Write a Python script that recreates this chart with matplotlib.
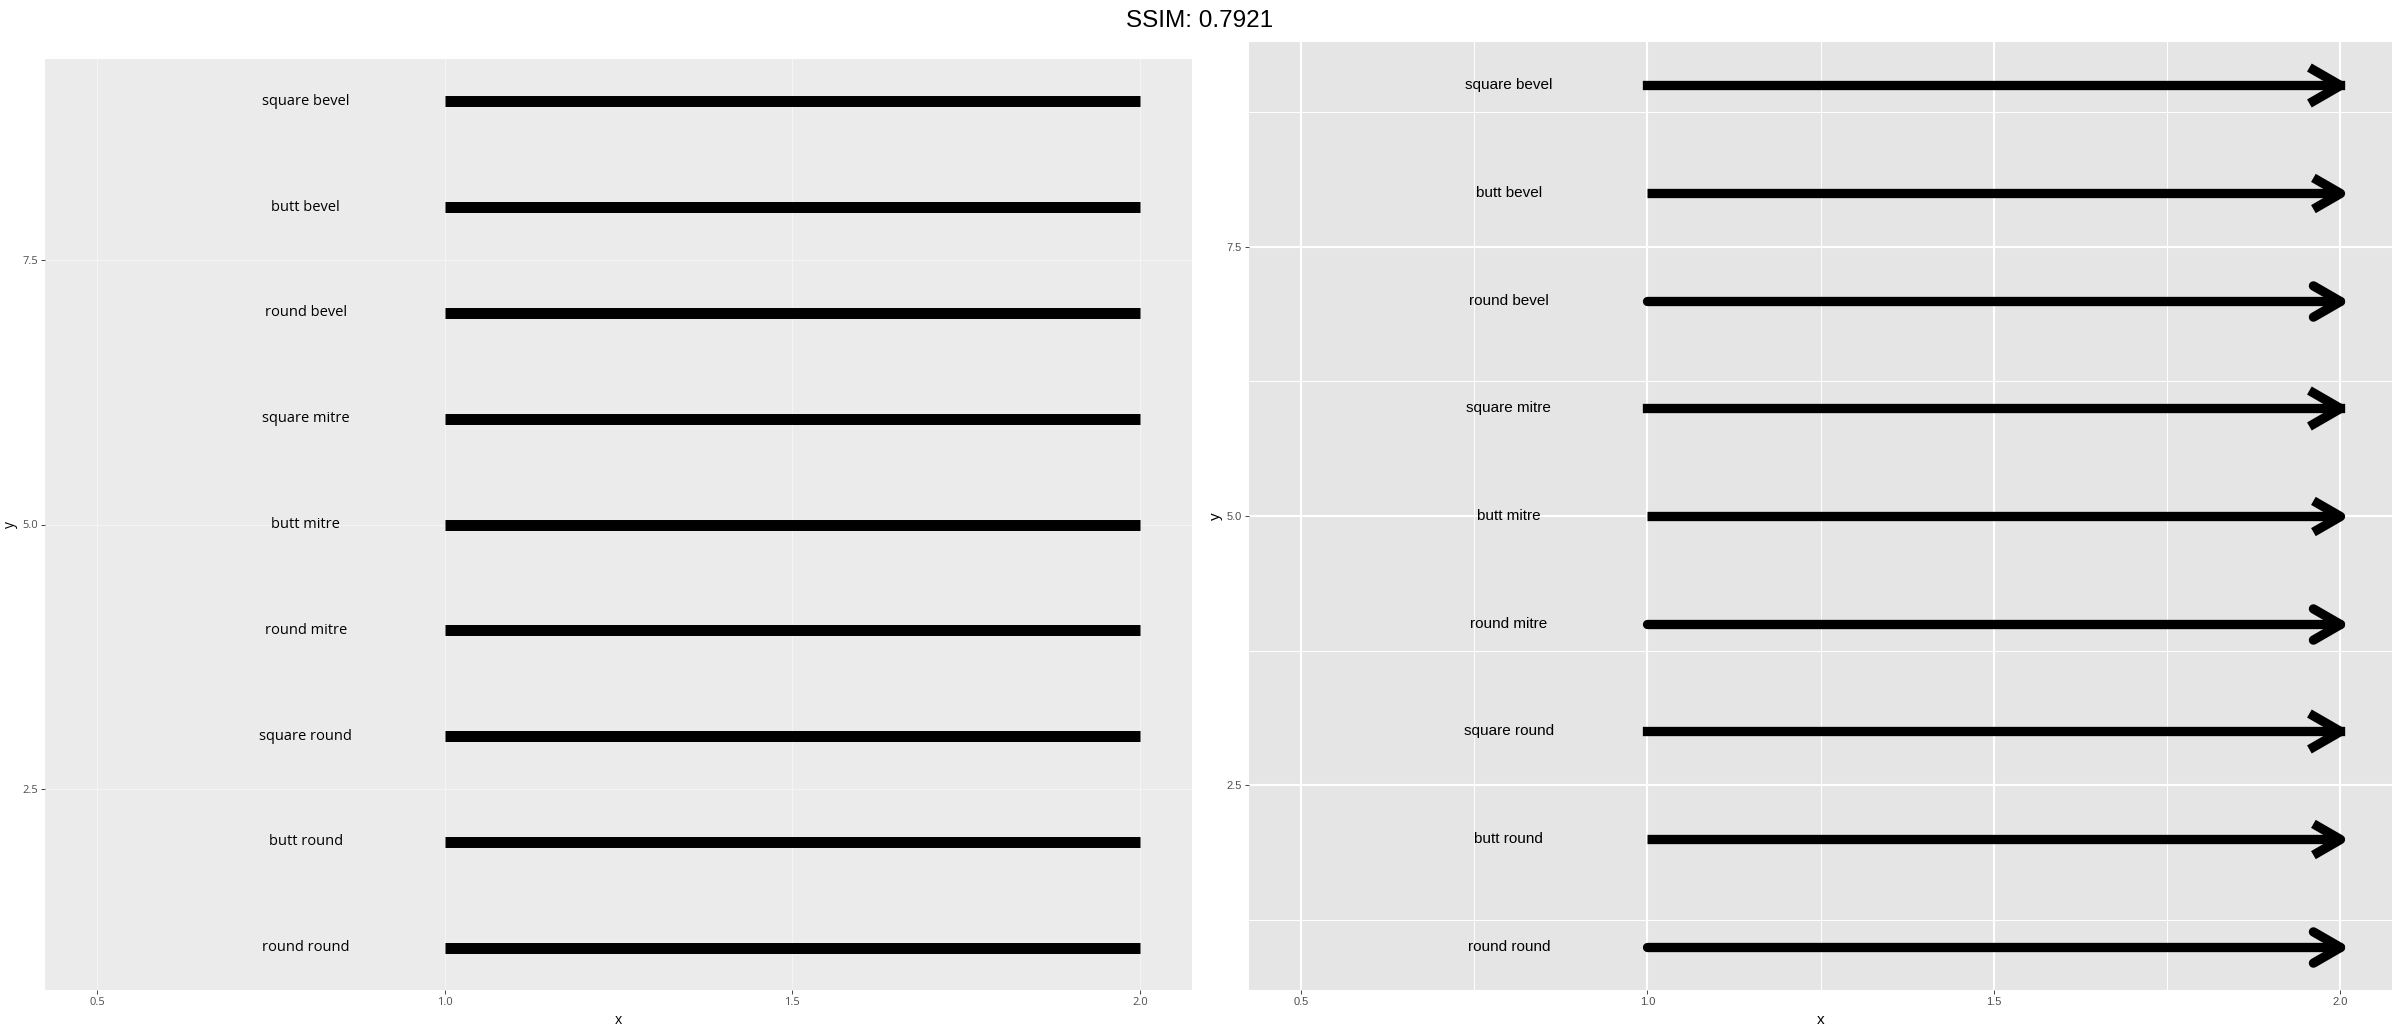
import matplotlib
matplotlib.use("Agg")
import matplotlib.pyplot as plt
from matplotlib.markers import MarkerStyle
from matplotlib.path import Path
from matplotlib.ticker import MultipleLocator, FormatStrFormatter
import numpy as np

# data: one segment per (lineend, linejoin) pair, y = 1..9
line_ends = ["round", "butt", "square", "round", "butt", "square", "round", "butt", "square"]
line_joins = ["round", "round", "round", "mitre", "mitre", "mitre", "bevel", "bevel", "bevel"]
y_pos = [1, 2, 3, 4, 5, 6, 7, 8, 9]
x_start = [1, 1, 1, 1, 1, 1, 1, 1, 1]
x_end = [2, 2, 2, 2, 2, 2, 2, 2, 2]
label_x = 0.8
labels = [f"{e} {j}" for e, j in zip(line_ends, line_joins)]

x_ticks = [0.5, 1.0, 1.5, 2.0]
y_ticks = [2.5, 5.0, 7.5]
x_lim = (0.425, 2.075)
y_lim = (0.6, 9.4)

W, H = 2400, 1034
fig = plt.figure(figsize=(W / 100, H / 100), dpi=100)


def px_axes(x0, x1, top, bottom):
    return fig.add_axes([x0 / W, 1 - bottom / H, (x1 - x0) / W, (bottom - top) / H])


def style_axes(ax, bg, font, major_c, major_w, minor):
    ax.set_facecolor(bg)
    ax.set_xlim(*x_lim)
    ax.set_ylim(*y_lim)
    ax.set_xticks(x_ticks)
    ax.set_yticks(y_ticks)
    ax.yaxis.set_major_formatter(FormatStrFormatter("%.1f"))
    for s in ax.spines.values():
        s.set_visible(False)
    ax.tick_params(length=3, width=0.7, color="#444444", labelcolor="#4D4D4D",
                   labelsize=8, pad=2)
    for lab in ax.get_xticklabels() + ax.get_yticklabels():
        lab.set_family(font)
    ax.set_axisbelow(True)
    ax.grid(True, which="major", color=major_c, lw=major_w)
    if minor:
        ax.xaxis.set_minor_locator(MultipleLocator(0.25))
        ax.yaxis.set_minor_locator(MultipleLocator(1.25))
        ax.tick_params(which="minor", length=0)
        ax.grid(True, which="minor", color="white", lw=0.7)
    ax.set_xlabel("x", family=font, fontsize=10, labelpad=4)
    ax.set_ylabel("y", family=font, fontsize=10, labelpad=3)


# left panel: plain thick segments
ax1 = px_axes(45, 1192, 59, 990)
style_axes(ax1, "#EBEBEB", "Open Sans", "#F4F4F4", 0.8, False)
for xs, xe, y in zip(x_start, x_end, y_pos):
    ax1.plot([xs, xe], [y, y], color="black", lw=7.9, solid_capstyle="butt")
for y, lab in zip(y_pos, labels):
    ax1.text(label_x, y, lab, ha="center", va="center", fontsize=10.5, family="Open Sans")

# right panel: segments with open arrow heads
ax2 = px_axes(1249, 2392, 42, 990)
style_axes(ax2, "#E5E5E5", "Liberation Sans", "white", 1.5, True)
ax2.xaxis.label.set_size(11)
ax2.yaxis.label.set_size(11)

t30 = np.tan(np.radians(30))
head = Path([(-1, t30), (0, 0), (-1, -t30)], [Path.MOVETO, Path.LINETO, Path.LINETO])
join_map = {"round": "round", "mitre": "miter", "bevel": "bevel"}
cap_map = {"round": "round", "butt": "butt", "square": "projecting"}

for xs, xe, y, e, j in zip(x_start, x_end, y_pos, line_ends, line_joins):
    ax2.plot([xs, xe], [y, y], color="black", lw=6.7, solid_capstyle=cap_map[e])
    m = MarkerStyle(head, joinstyle=join_map[j], capstyle=cap_map[e])
    ax2.plot([xe], [y], marker=m, ms=39, mew=6.7, mfc="none", mec="black", ls="none")
for y, lab in zip(y_pos, labels):
    ax2.text(label_x, y, lab, ha="center", va="center", fontsize=11, family="Liberation Sans")

fig.text(0.5, 1 - 21 / H, "SSIM: 0.7921", ha="center", va="center",
         fontsize=17.5, family="Liberation Sans")

fig.savefig("out.png", dpi=100)
